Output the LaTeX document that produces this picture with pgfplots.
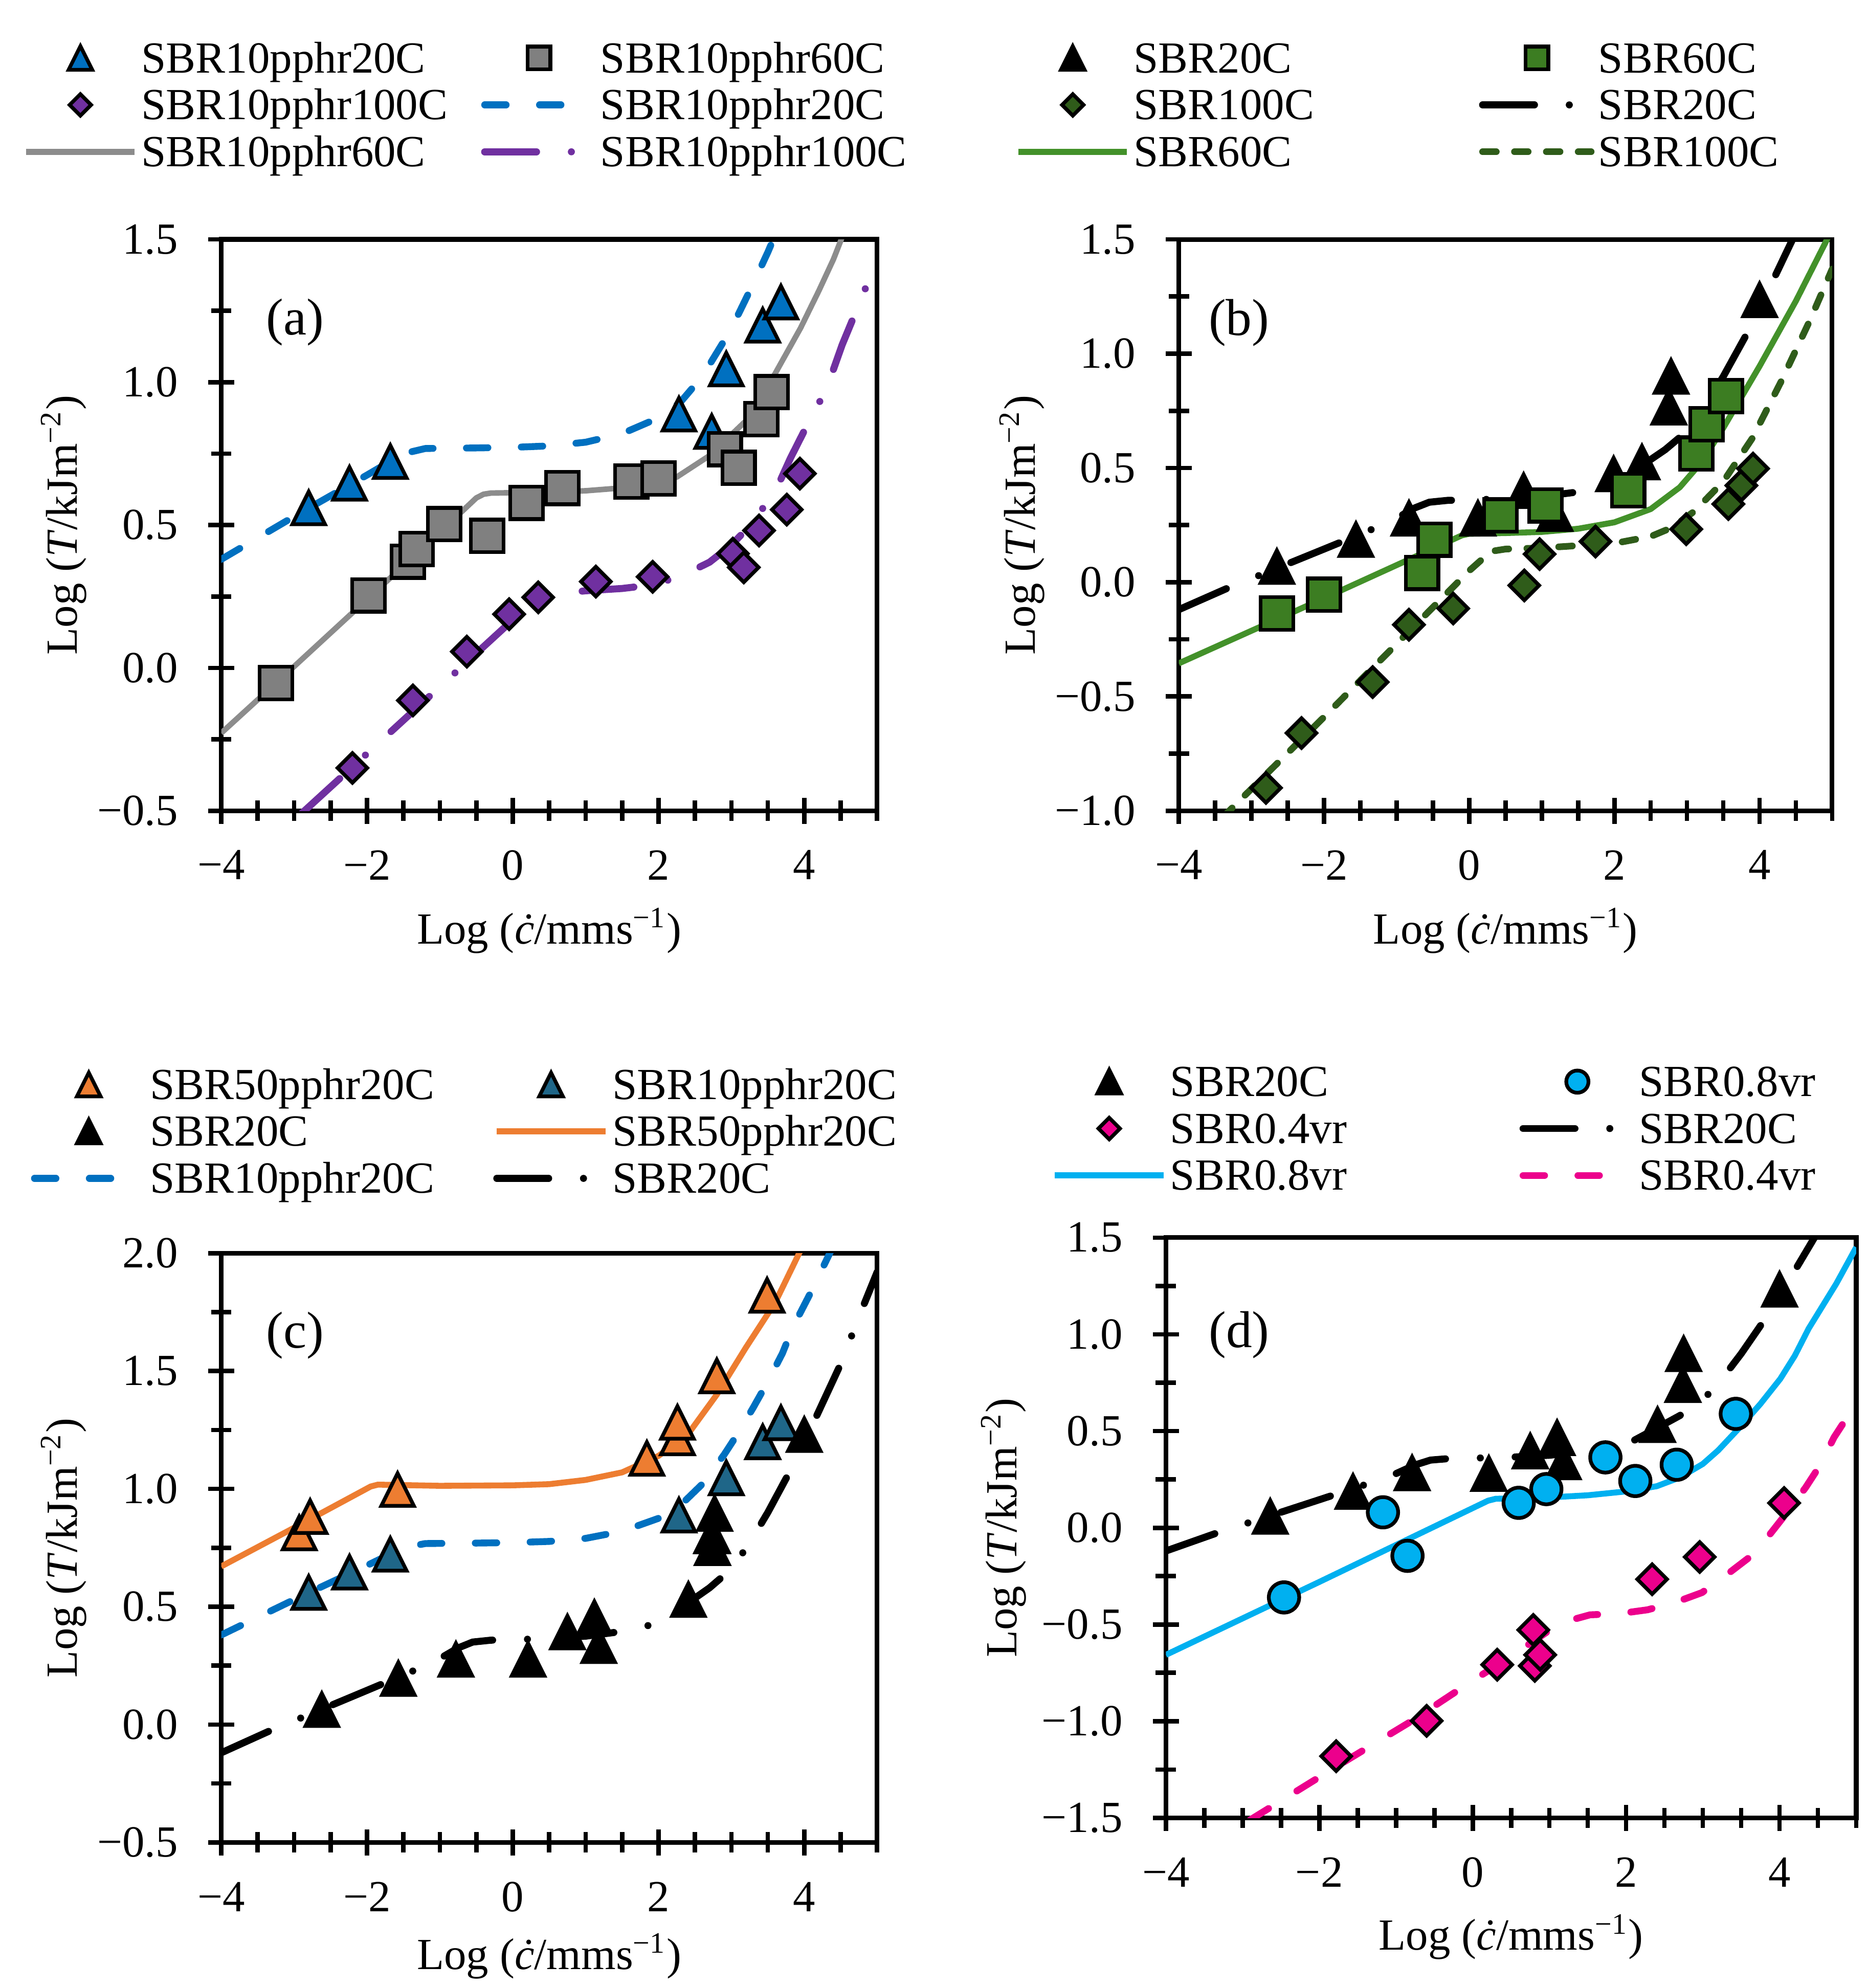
\documentclass[12pt,border=0pt]{standalone}
\usepackage{fontspec}
\setmainfont{Liberation Serif}
\usepackage{pgfplots}
\pgfplotsset{compat=1.18}
\definecolor{blueA}{HTML}{0070C0}
\definecolor{grayM}{HTML}{808080}
\definecolor{grayL}{HTML}{8C8C8C}
\definecolor{purpleA}{HTML}{7030A0}
\definecolor{greenM}{HTML}{3C7D22}
\definecolor{greenL}{HTML}{43912A}
\definecolor{dgreen}{HTML}{2F5C1A}
\definecolor{orangeA}{HTML}{ED7D31}
\definecolor{tealA}{HTML}{1F6688}
\definecolor{cyanA}{HTML}{00B0F0}
\definecolor{pinkA}{HTML}{EC008C}
\pgfdeclareplotmark{xtri}{%
  \pgfpathmoveto{\pgfqpoint{0pt}{\pgfplotmarksize}}%
  \pgfpathlineto{\pgfqpoint{-\pgfplotmarksize}{-\pgfplotmarksize}}%
  \pgfpathlineto{\pgfqpoint{\pgfplotmarksize}{-\pgfplotmarksize}}%
  \pgfpathclose\pgfusepathqfillstroke}
\pgfdeclareplotmark{xdia}{%
  \pgfpathmoveto{\pgfqpoint{0pt}{\pgfplotmarksize}}%
  \pgfpathlineto{\pgfqpoint{\pgfplotmarksize}{0pt}}%
  \pgfpathlineto{\pgfqpoint{0pt}{-\pgfplotmarksize}}%
  \pgfpathlineto{\pgfqpoint{-\pgfplotmarksize}{0pt}}%
  \pgfpathclose\pgfusepathqfillstroke}
\pgfplotsset{
  mk/.style={only marks, mark options={solid, draw=black, line width=1.0pt, fill=#1}},
  tri/.style={mk=#1, mark=xtri},
  sq/.style={mk=#1, mark=square*},
  dia/.style={mk=#1, mark=xdia},
  circ/.style={mk=#1, mark=*},
  dashL/.style={color=#1, line width=1.85pt, line cap=round, line join=round, dash pattern=on 5.8pt off 9pt, no marks},
  sdashL/.style={color=#1, line width=1.8pt, line cap=round, line join=round, dash pattern=on 3.7pt off 4.9pt, no marks},
  ddotL/.style={color=#1, line width=1.9pt, line cap=round, line join=round, dash pattern=on 14pt off 9.4pt on 0pt off 9.4pt, no marks},
  solidL/.style={color=#1, line width=1.6pt, line join=round, solid, no marks},
  panel/.style={
    scale only axis, anchor=south west,
    axis line style={line width=1.25pt},
    tick align=center, xtick pos=bottom, ytick pos=left,
    major tick length=7pt, minor tick length=5.5pt,
    tick style={black, line width=1.2pt},
    xmin=-4, xmax=5, xtick={-4,-2,0,2,4}, xticklabels={−4,−2,0,2,4},
    minor xtick={-4,-3.5,...,5},
    xticklabel style={inner sep=0pt}, yticklabel style={inner sep=0pt},
    xticklabel shift=7pt, yticklabel shift=8pt,
    xlabel={Log (\textit{ċ}/mms\textsuperscript{−1})},
    ylabel={Log (\textit{T}/kJm\textsuperscript{−2})},
    every axis x label/.style={at={(axis description cs:0.5,-0.21)}, anchor=center},
    every axis y label/.style={at={(axis description cs:-0.24,0.5)}, rotate=90, anchor=center},
    legend cell align=left, legend columns=2,
    legend image code/.code={\draw[mark repeat=2,mark phase=2,##1] plot coordinates {(0pt,1.15pt) (14.65pt,1.15pt) (29.3pt,1.15pt)};},
    legend style={draw=none, fill=none, inner sep=0pt, outer sep=0pt, row sep=1.86pt,
      nodes={inner sep=0pt, text height=8.2pt, text depth=2.6pt},
      anchor=north west,
      /tikz/every odd column/.style={column sep=1pt}},
  },
}
\begin{document}
\begin{tikzpicture}
\path[use as bounding box] (0,0) rectangle (504pt,536.5pt);

% ---------------- (a)
\begin{axis}[panel, at={(59.7pt,317.7pt)}, width=177pt, height=154.2pt,
  ymin=-0.5, ymax=1.5, ytick={-0.5,0,0.5,1,1.5}, yticklabels={−0.5,0.0,0.5,1.0,1.5},
  minor ytick={-0.25,0.25,0.75,1.25},
  legend style={at={(-0.302,1.345)}, /tikz/every even column/.style={column sep=9pt}}]
\addplot[dashL=blueA, forget plot] coordinates {(-4,0.38)(-3,0.53)(-2,0.675)(-1.5,0.75)(-1.2,0.768)(-0.5,0.77)(0,0.772)(0.5,0.777)(1,0.79)(1.5,0.82)(2,0.875)(2.3,0.93)(2.6,1.02)(2.9,1.145)(3.1,1.24)(3.3,1.345)(3.5,1.455)(3.7,1.575)(3.85,1.69)(4.1,1.84)(4.35,2.0)(4.5,2.1)};
\addplot[solidL=grayL, line width=1.5pt, forget plot] coordinates {(-4,-0.228)(-3,0.005)(-2,0.24)(-1,0.475)(-0.5,0.595)(-0.4,0.608)(-0.3,0.612)(0.5,0.615)(1,0.62)(1.5,0.63)(2,0.65)(2.25,0.668)(2.7,0.743)(3.2,0.865)(3.6,1.03)(3.95,1.19)(4.2,1.32)(4.4,1.43)(4.6,1.56)};
\addplot[ddotL=purpleA, forget plot] coordinates {(-2.9,-0.51)(-2,-0.30)(-1,-0.066)(0,0.168)(0.45,0.255)(1,0.27)(1.5,0.278)(1.9,0.29)(2.3,0.32)(2.7,0.37)(3,0.43)(3.3,0.51)(3.63,0.633)(3.81,0.734)(4,0.83)(4.2,0.925)(4.37,1.023)(4.52,1.131)(4.83,1.322)(5,1.44)};
\addplot[tri=blueA, mark size=4.4pt, forget plot] coordinates {(-2.80,0.56)(-2.24,0.646)(-1.68,0.722)(2.28,0.888)(2.73,0.827)(2.93,1.046)(3.43,1.199)(3.68,1.28)};
\addplot[sq=grayM, mark size=4.4pt, forget plot] coordinates {(-3.25,-0.053)(-1.98,0.254)(-1.44,0.372)(-1.32,0.416)(-0.94,0.503)(-0.35,0.462)(0.19,0.578)(0.68,0.63)(1.63,0.652)(2.0,0.663)(2.91,0.766)(3.10,0.70)(3.41,0.871)(3.55,0.965)};
\addplot[dia=purpleA, mark size=4.0pt, forget plot] coordinates {(-2.20,-0.35)(-1.37,-0.114)(-0.63,0.057)(-0.05,0.188)(0.35,0.247)(1.14,0.302)(1.92,0.319)(3.02,0.40)(3.17,0.352)(3.38,0.481)(3.76,0.554)(3.94,0.68)};
\addlegendimage{tri=blueA, mark size=3.2pt}\addlegendentry{SBR10pphr20C}
\addlegendimage{sq=grayM, mark size=3.1pt}\addlegendentry{SBR10pphr60C}
\addlegendimage{dia=purpleA, mark size=2.9pt}\addlegendentry{SBR10pphr100C}
\addlegendimage{dashL=blueA}\addlegendentry{SBR10pphr20C}
\addlegendimage{solidL=grayL}\addlegendentry{SBR10pphr60C}
\addlegendimage{ddotL=purpleA}\addlegendentry{SBR10pphr100C}
\node[font=\fontsize{14}{16}\selectfont] at (axis description cs:0.1125,0.855) {(a)};
\end{axis}

% ---------------- (b)
\begin{axis}[panel, at={(318.1pt,317.7pt)}, width=176.3pt, height=154.2pt,
  ymin=-1, ymax=1.5, ytick={-1,-0.5,0,0.5,1,1.5}, yticklabels={−1.0,−0.5,0.0,0.5,1.0,1.5},
  minor ytick={-0.75,-0.25,0.25,0.75,1.25},
  legend style={at={(-0.250,1.345)}, /tikz/every even column/.style={column sep=44.5pt}}]
\addplot[ddotL=black, forget plot] coordinates {(-4,-0.12)(-3.25,-0.015)(-2.85,0.035)(-2,0.145)(-1.5,0.21)(-1.2,0.25)(-1.0,0.28)(-0.75,0.325)(-0.55,0.35)(-0.3,0.358)(0,0.36)(0.5,0.365)(1,0.375)(1.5,0.395)(2,0.43)(2.4,0.515)(2.7,0.58)(3,0.66)(3.25,0.77)(3.5,0.9)(3.9,1.13)(4.2,1.33)(4.5,1.53)(4.77,1.745)(5,1.92)};
\addplot[solidL=greenL, forget plot] coordinates {(-4,-0.355)(-2,-0.07)(-0.1,0.205)(0,0.212)(0.5,0.215)(1,0.22)(1.5,0.234)(2,0.262)(2.5,0.32)(2.9,0.415)(3.2,0.525)(3.5,0.675)(4,0.945)(4.5,1.23)(4.93,1.5)(5,1.55)};
\addplot[sdashL=dgreen, forget plot] coordinates {(-3.4,-1.03)(-2,-0.59)(-1,-0.27)(0,0.05)(0.3,0.135)(0.5,0.145)(1,0.15)(1.5,0.16)(2,0.17)(2.5,0.2)(2.8,0.24)(3.1,0.31)(3.5,0.44)(3.9,0.63)(4.3,0.88)(4.7,1.15)(5,1.37)};
\addplot[tri=black, mark size=4.4pt, forget plot] coordinates {(-2.65,0.068)(-1.56,0.186)(-0.83,0.279)(0.12,0.279)(0.75,0.40)(1.18,0.30)(1.99,0.473)(2.38,0.525)(2.75,0.765)(2.78,0.90)(4.00,1.235)};
\addplot[sq=greenM, mark size=4.4pt, forget plot] coordinates {(-2.65,-0.137)(-2.00,-0.055)(-0.65,0.041)(-0.48,0.186)(0.43,0.292)(1.05,0.336)(2.19,0.402)(3.13,0.563)(3.27,0.691)(3.54,0.814)};
\addplot[dia=dgreen, mark size=4.0pt, forget plot] coordinates {(-2.80,-0.90)(-2.31,-0.66)(-1.33,-0.437)(-0.83,-0.186)(-0.22,-0.115)(0.76,-0.014)(0.97,0.123)(1.74,0.178)(2.99,0.232)(3.57,0.342)(3.75,0.423)(3.91,0.497)};
\addlegendimage{tri=black, mark size=3.2pt}\addlegendentry{SBR20C}
\addlegendimage{sq=greenM, mark size=3.1pt}\addlegendentry{SBR60C}
\addlegendimage{dia=dgreen, mark size=2.9pt}\addlegendentry{SBR100C}
\addlegendimage{ddotL=black}\addlegendentry{SBR20C}
\addlegendimage{solidL=greenL}\addlegendentry{SBR60C}
\addlegendimage{sdashL=dgreen}\addlegendentry{SBR100C}
\node[font=\fontsize{14}{16}\selectfont] at (axis description cs:0.092,0.854) {(b)};
\end{axis}

% ---------------- (c)
\begin{axis}[panel, at={(59.7pt,39.3pt)}, width=177pt, height=159pt,
  ymin=-0.5, ymax=2, ytick={-0.5,0,0.5,1,1.5,2}, yticklabels={−0.5,0.0,0.5,1.0,1.5,2.0},
  minor ytick={-0.25,0.25,0.75,1.25,1.75},
  every axis x label/.style={at={(axis description cs:0.5,-0.193)}, anchor=center},
  legend style={at={(-0.290,1.313)}, /tikz/every even column/.style={column sep=15.9pt}}]
\addplot[solidL=orangeA, forget plot] coordinates {(-4,0.671)(-3,0.835)(-1.95,1.01)(-1.85,1.018)(-1,1.013)(0,1.015)(0.5,1.02)(1,1.038)(1.5,1.07)(2,1.14)(2.4,1.23)(2.8,1.40)(3.2,1.60)(3.6,1.79)(3.93,2.0)(4.1,2.1)};
\addplot[dashL=blueA, forget plot] coordinates {(-4,0.38)(-3,0.53)(-2,0.675)(-1.5,0.75)(-1.2,0.768)(-0.5,0.77)(0,0.772)(0.5,0.777)(1,0.79)(1.5,0.82)(2,0.875)(2.3,0.93)(2.6,1.02)(2.9,1.145)(3.1,1.24)(3.3,1.345)(3.5,1.455)(3.7,1.575)(3.85,1.69)(4.1,1.84)(4.35,2.0)(4.5,2.1)};
\addplot[ddotL=black, forget plot] coordinates {(-4,-0.12)(-3.25,-0.015)(-2.85,0.035)(-2,0.145)(-1.5,0.21)(-1.2,0.25)(-1.0,0.28)(-0.75,0.325)(-0.55,0.35)(-0.3,0.358)(0,0.36)(0.5,0.365)(1,0.375)(1.5,0.395)(2,0.43)(2.4,0.515)(2.7,0.58)(3,0.66)(3.25,0.77)(3.5,0.9)(3.9,1.13)(4.2,1.33)(4.5,1.53)(4.77,1.745)(5,1.92)};
\addplot[tri=orangeA, mark size=4.4pt, forget plot] coordinates {(-2.93,0.813)(-2.78,0.882)(-1.58,0.997)(1.84,1.129)(2.26,1.216)(2.26,1.282)(2.80,1.479)(3.49,1.821)};
\addplot[tri=tealA, mark size=4.4pt, forget plot] coordinates {(-2.80,0.56)(-2.24,0.646)(-1.68,0.722)(2.28,0.888)(2.73,0.80)(2.93,1.046)(3.43,1.199)(3.68,1.28)};
\addplot[tri=black, mark size=4.4pt, forget plot] coordinates {(-2.62,0.063)(-1.57,0.195)(-0.78,0.276)(0.21,0.276)(0.75,0.392)(1.12,0.453)(1.18,0.334)(2.41,0.53)(2.74,0.75)(2.74,0.80)(2.77,0.895)(4.0,1.23)};
\addlegendimage{tri=orangeA, mark size=3.2pt}\addlegendentry{SBR50pphr20C}
\addlegendimage{tri=tealA, mark size=3.2pt}\addlegendentry{SBR10pphr20C}
\addlegendimage{tri=black, mark size=3.2pt}\addlegendentry{SBR20C}
\addlegendimage{solidL=orangeA}\addlegendentry{SBR50pphr20C}
\addlegendimage{dashL=blueA}\addlegendentry{SBR10pphr20C}
\addlegendimage{ddotL=black}\addlegendentry{SBR20C}
\node[font=\fontsize{14}{16}\selectfont] at (axis description cs:0.1125,0.86) {(c)};
\end{axis}

% ---------------- (d)
\begin{axis}[panel, at={(314.6pt,45.9pt)}, width=186.3pt, height=156.6pt,
  ymin=-1.5, ymax=1.5, ytick={-1.5,-1,-0.5,0,0.5,1,1.5}, yticklabels={−1.5,−1.0,−0.5,0.0,0.5,1.0,1.5},
  minor ytick={-1.25,-0.75,-0.25,0.25,0.75,1.25},
  every axis x label/.style={at={(axis description cs:0.5,-0.205)}, anchor=center},
  every axis y label/.style={at={(axis description cs:-0.235,0.5)}, rotate=90, anchor=center},
  legend style={at={(-0.165,1.296)}, /tikz/every even column/.style={column sep=46.6pt}}]
\addplot[ddotL=black, forget plot] coordinates {(-4,-0.12)(-3.25,-0.015)(-2.85,0.035)(-2,0.145)(-1.5,0.21)(-1.2,0.25)(-1.0,0.28)(-0.75,0.325)(-0.55,0.35)(-0.3,0.358)(0,0.36)(0.5,0.365)(1,0.375)(1.5,0.395)(2,0.43)(2.4,0.515)(2.7,0.58)(3,0.66)(3.25,0.77)(3.5,0.9)(3.9,1.13)(4.2,1.33)(4.5,1.53)(4.77,1.745)(5,1.92)};
\addplot[solidL=cyanA, forget plot] coordinates {(-4,-0.657)(-2,-0.28)(0.2,0.14)(0.3,0.15)(0.5,0.152)(1,0.157)(1.5,0.168)(2,0.188)(2.4,0.215)(2.7,0.26)(3.0,0.33)(3.2,0.40)(3.47,0.514)(3.75,0.64)(4.01,0.77)(4.2,0.89)(4.38,1.03)(4.74,1.262)(5,1.45)};
\addplot[dashL=pinkA, forget plot] coordinates {(-2.9,-1.51)(-1.8,-1.24)(-0.8,-1.0)(0,-0.79)(0.5,-0.665)(1.0,-0.53)(1.3,-0.475)(1.53,-0.45)(1.91,-0.444)(2.28,-0.424)(2.66,-0.383)(2.99,-0.335)(3.32,-0.24)(3.61,-0.152)(3.87,-0.036)(4.1,0.08)(4.34,0.208)(4.53,0.324)(4.71,0.467)(4.91,0.589)(5,0.65)};
\addplot[tri=black, mark size=4.4pt, forget plot] coordinates {(-2.64,0.058)(-1.56,0.187)(-0.79,0.283)(0.21,0.28)(0.75,0.396)(1.10,0.465)(1.18,0.34)(2.41,0.532)(2.74,0.739)(2.75,0.899)(4.0,1.232)};
\addplot[circ=cyanA, mark size=4.1pt, forget plot] coordinates {(-2.46,-0.36)(-1.17,0.08)(-0.85,-0.145)(0.60,0.129)(0.96,0.2)(1.73,0.364)(2.12,0.242)(2.66,0.326)(3.43,0.589)};
\addplot[dia=pinkA, mark size=4.0pt, forget plot] coordinates {(-1.78,-1.181)(-0.60,-0.998)(0.32,-0.708)(0.79,-0.528)(0.81,-0.714)(0.88,-0.657)(2.34,-0.266)(2.96,-0.151)(4.06,0.128)};
\addlegendimage{tri=black, mark size=3.2pt}\addlegendentry{SBR20C}
\addlegendimage{circ=cyanA, mark size=3.0pt}\addlegendentry{SBR0.8vr}
\addlegendimage{dia=pinkA, mark size=2.9pt}\addlegendentry{SBR0.4vr}
\addlegendimage{ddotL=black}\addlegendentry{SBR20C}
\addlegendimage{solidL=cyanA}\addlegendentry{SBR0.8vr}
\addlegendimage{dashL=pinkA}\addlegendentry{SBR0.4vr}
\node[font=\fontsize{14}{16}\selectfont] at (axis description cs:0.106,0.832) {(d)};
\end{axis}
\end{tikzpicture}
\end{document}
